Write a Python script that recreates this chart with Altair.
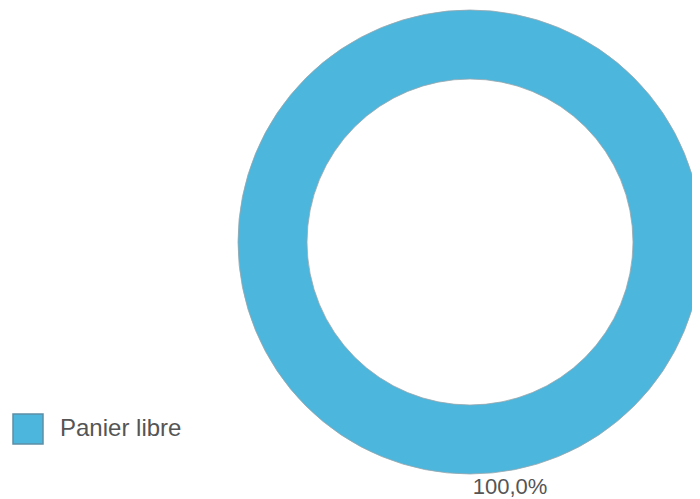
import altair as alt
import pandas as pd

categories = ["Panier libre"]
values = [100.0]
labels = ["100,0%"]

df = pd.DataFrame({"cat": categories, "val": values, "label": labels})

base = alt.Chart(df)

arc = base.mark_arc(radius=232, radius2=163, stroke="#9aa7ad", strokeWidth=0.8).encode(
    theta=alt.Theta("val:Q", stack=True),
    color=alt.Color(
        "cat:N",
        scale=alt.Scale(domain=categories, range=["#4cb6dc"]),
        legend=alt.Legend(
            title=None,
            orient="none",
            legendX=4,
            legendY=405,
            symbolType="square",
            symbolSize=900,
            symbolStrokeColor="#5d8fa5",
            symbolStrokeWidth=1.5,
            symbolOpacity=1,
            labelFontSize=24,
            labelColor="#555555",
            labelFont="Liberation Sans",
            labelOffset=16,
        ),
    ),
    x=alt.value(462),
    y=alt.value(234),
)

text = base.mark_text(font="Liberation Sans", fontSize=22, color="#555555", baseline="middle").encode(
    text="label:N",
    x=alt.value(502),
    y=alt.value(479),
)

chart = alt.layer(arc, text).properties(
    width=684, height=491, padding=0, autosize="none"
).configure_view(stroke=None)

chart.save("out.html", embed_options={"renderer": "svg", "actions": False})
